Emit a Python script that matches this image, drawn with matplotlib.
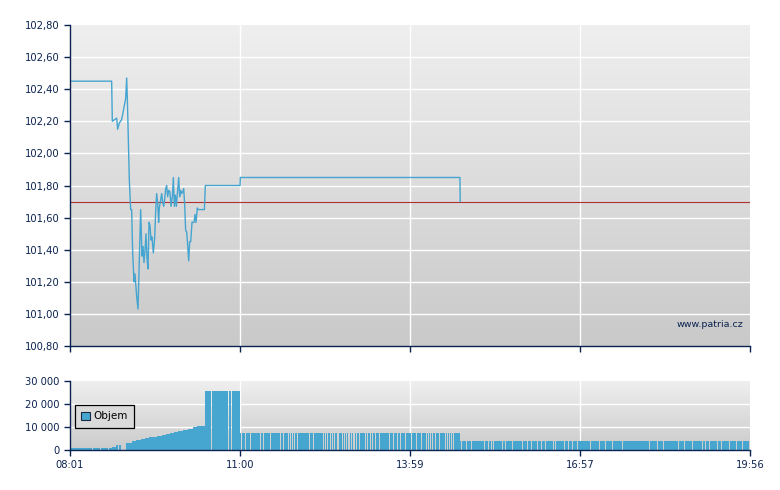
import numpy as np
import matplotlib
matplotlib.use("Agg")
import matplotlib.pyplot as plt
from matplotlib.colors import LinearSegmentedColormap
from matplotlib.patches import Patch
from matplotlib.ticker import FuncFormatter

# --- data (minutes since 08:01) ---
price_t = [0, 43.8, 44.5, 49.1, 50.1, 51.9, 54.3, 58.5, 59.6, 60.3, 62.4, 63.8, 64.8,
           65.9, 67.3, 68.3, 70.1, 71.5, 72.9, 74.3, 75.7, 76.8, 77.8, 78.9, 79.9, 81.0,
           82.0, 83.1, 84.1, 85.2, 86.2, 87.6, 89.0, 90.1, 91.1, 92.2, 93.2, 93.9, 95.3,
           96.4, 97.4, 98.5, 99.5, 100.6, 101.6, 102.7, 103.8, 105.1, 106.2, 107.6, 108.7,
           109.7, 110.8, 111.8, 112.9, 114.3, 115.3, 116.4, 117.4, 118.5, 119.5, 120.6,
           121.6, 122.7, 123.7, 124.8, 125.8, 126.9, 128.3, 130.4, 131.5, 132.5, 133.9,
           134.5, 141.3, 142.3, 178.8, 179.1, 410.0, 410.3]
price_v = [102.45, 102.45, 102.20, 102.22, 102.15, 102.19, 102.21, 102.34, 102.47, 102.34,
           101.83, 101.65, 101.65, 101.38, 101.20, 101.25, 101.11, 101.03, 101.34, 101.65,
           101.36, 101.42, 101.32, 101.40, 101.50, 101.34, 101.28, 101.57, 101.55, 101.46,
           101.48, 101.38, 101.47, 101.64, 101.75, 101.69, 101.57, 101.66, 101.71, 101.75,
           101.70, 101.67, 101.71, 101.78, 101.80, 101.73, 101.77, 101.76, 101.67, 101.73,
           101.85, 101.67, 101.74, 101.67, 101.75, 101.85, 101.73, 101.77, 101.75, 101.76,
           101.78, 101.68, 101.52, 101.51, 101.43, 101.33, 101.45, 101.45, 101.57, 101.57,
           101.62, 101.57, 101.66, 101.65, 101.65, 101.80, 101.80, 101.85, 101.85, 101.70]
ref_price = 101.70

vol_t = [0.7, 23.7, 32.6, 41.0, 43.8, 48.1, 51.8, 53.6,
         58.9, 64.9, 69.4, 74.3, 78.9, 83.1, 91.2, 96.4, 100.6, 105.1, 109.4, 113.9,
         119.1, 124.4, 129.0, 133.9,
         141.9, 149.3, 166.9, 170.3,
         179.1, 181.2, 184.7, 190.3, 201.2, 203.7, 211.0, 221.9, 224.7, 230.0, 232.7,
         234.8, 236.9, 239.7, 252.4, 256.6, 267.1, 269.2, 271.6, 274.1, 276.9, 279.0,
         281.5, 283.2, 286.7, 289.5, 291.3, 293.1, 294.7, 296.5, 298.3, 300.0, 302.1,
         304.9, 311.2, 313.3, 316.2, 318.6, 321.8, 326.0, 336.5, 341.0, 345.2, 348.0,
         353.3, 359.3, 365.2, 369.8, 375.1, 377.5, 379.6, 382.0, 384.6, 389.1, 395.4,
         397.8, 399.9, 402.0, 404.1,
         410.1, 412.2, 417.8, 422.7, 436.4, 440.3, 443.2, 445.3, 455.3, 458.5, 465.8,
         476.3, 481.1, 485.5, 492.4, 496.6, 500.5, 508.9, 511.0, 520.8, 525.0, 529.2,
         534.5, 547.8, 557.3, 563.6, 570.6, 581.8, 610.2, 617.9, 624.2, 640.0, 646.3,
         655.4, 665.9, 668.5, 673.0, 681.1, 685.9, 694.3, 701.1, 707.3]
vol_v = [900, 900, 900, 900, 1400, 2000, 2000, 0,
         3200, 3750, 4200, 4750, 5350, 5750, 6200, 6650, 7050, 7500, 7800, 8200,
         8650, 9250, 9800, 10400,
         25500, 25500, 25500, 25500] + [7500] * 59 + [4000] * 44
t_end = 715

tick_pos = [0, 179, 358, 536, 715]
tick_lbl = ["08:01", "11:00", "13:59", "16:57", "19:56"]

navy = "#0b2350"
blue = "#46a6d0"

plt.rcParams["font.family"] = ["DejaVu Sans"]
fig = plt.figure(figsize=(7.8, 4.9), dpi=100)
ax1 = fig.add_axes([70 / 780, 1 - 346 / 490, 680 / 780, 321 / 490])
ax2 = fig.add_axes([70 / 780, 1 - 450 / 490, 680 / 780, 69 / 490])


def style(ax, top_col, bot_col):
    cmap = LinearSegmentedColormap.from_list("bg", [bot_col, top_col])
    ax.imshow(np.linspace(0, 1, 256).reshape(-1, 1), cmap=cmap, origin="lower",
              extent=[0, 1, 0, 1], transform=ax.transAxes, aspect="auto", zorder=0)
    for s in ["top", "right"]:
        ax.spines[s].set_visible(False)
    for s in ["left", "bottom"]:
        ax.spines[s].set_color(navy)
        ax.spines[s].set_linewidth(1.0)
        ax.spines[s].set_zorder(5)
    ax.tick_params(colors=navy, labelcolor=navy, labelsize=7.2, length=4, width=1,
                   direction="out")
    ax.set_xlim(0, t_end)
    ax.set_xticks(tick_pos)
    for t in tick_pos[1:-1]:
        ax.axvline(t, color="white", lw=1.0, zorder=1)


# price panel
style(ax1, "#efefef", "#c9c9c9")
ax1.set_ylim(100.80, 102.80)
yt = np.round(np.arange(100.80, 102.81, 0.20), 2)
ax1.set_yticks(yt)
ax1.set_yticklabels([f"{v:.2f}".replace(".", ",") for v in yt])
for v in yt[1:-1]:
    ax1.axhline(v, color="white", lw=1.0, zorder=1)
ax1.set_xticklabels([])
ax1.axhline(ref_price, color="#b03030", lw=0.8, zorder=3)
ax1.plot(price_t, price_v, color="#45a5d0", lw=1.0, zorder=4)
ax1.text(0.99, 0.068, "www.patria.cz", transform=ax1.transAxes, ha="right",
         va="center", color=navy, fontsize=6.8, zorder=6)

# volume panel
style(ax2, "#efefef", "#cbcbcb")
ax2.set_ylim(0, 30000)
ax2.set_yticks([0, 10000, 20000, 30000])
ax2.yaxis.set_major_formatter(FuncFormatter(lambda v, p: f"{int(v):,}".replace(",", " ")))
for v in [10000, 20000]:
    ax2.axhline(v, color="white", lw=1.0, zorder=1)
ax2.set_xticklabels(tick_lbl)

ends = vol_t[1:] + [t_end]
for i, (t, v) in enumerate(zip(vol_t, vol_v)):
    if v <= 0:
        continue
    w = ends[i] - t
    if i + 1 < len(vol_v) and vol_v[i + 1] == v:
        w -= 1.0
    ax2.bar(t, v, width=w, align="edge", color=blue, linewidth=0, zorder=2)

leg = ax2.legend(handles=[Patch(facecolor=blue, edgecolor="#1a2a40", linewidth=0.8,
                                label="Objem")],
                 loc="upper left", bbox_to_anchor=(5 / 680, 1 - 24 / 69),
                 frameon=True, fancybox=False, fontsize=7.5, handlelength=0.8,
                 handleheight=0.8, handletextpad=0.4, borderpad=0.6,
                 borderaxespad=0)
leg.get_frame().set_edgecolor("black")
leg.get_frame().set_facecolor("#dadada")
leg.get_frame().set_linewidth(0.9)
leg.get_frame().set_alpha(1)
leg.set_zorder(7)

fig.savefig("out.png", dpi=100)
